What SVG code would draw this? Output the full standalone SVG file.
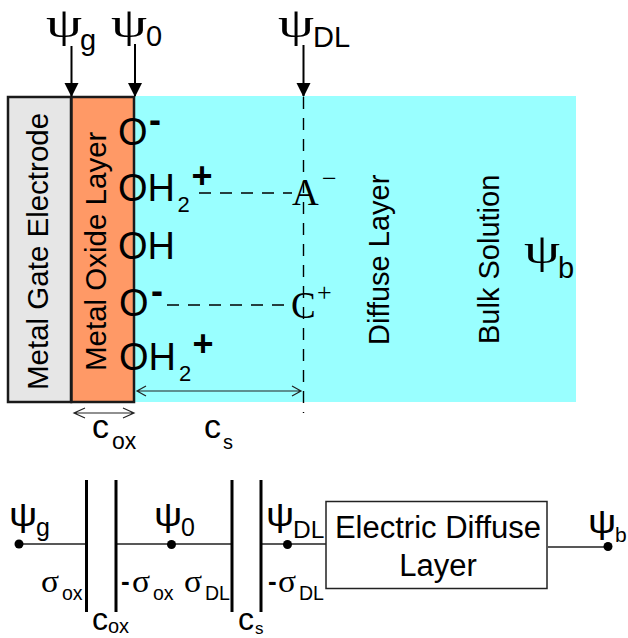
<svg xmlns="http://www.w3.org/2000/svg" width="628" height="638" viewBox="0 0 628 638">
<style>
text{font-family:"Liberation Sans",Arial,sans-serif;fill:#000}
.psi,.ser{font-family:"Liberation Serif",serif}
.psi{font-size:48px}
.psc{font-size:33px}
.sg{font-size:28px}
.t{font-size:29px}
.chem{font-size:38px}
.v{font-size:29.500px}
.sub{font-size:22px}
.sb{font-size:19.500px}
.ch{font-size:36px;font-weight:bold}
.l{fill:none;stroke:#000;stroke-width:2}
.d{fill:none;stroke:#000;stroke-width:1.4;stroke-dasharray:12 9}
.dim{fill:none;stroke:#222;stroke-width:1.2}
.w{fill:none;stroke:#222;stroke-width:1.5}
.p{fill:none;stroke:#000;stroke-width:3}
</style>
<defs>
<marker id="ah" markerUnits="userSpaceOnUse" markerWidth="14" markerHeight="16" refX="13" refY="7" orient="auto"><path d="M0,0L14,7L0,14z" fill="#000"/></marker>
</defs>
<g id="bulk-region"><rect x="134" y="96" width="442" height="306" fill="#99ffff"/></g>
<g id="metal-gate"><rect x="8" y="97" width="63" height="305" fill="#e6e6e6" stroke="#1a1a1a" stroke-width="2.500"/><text class="v" transform="translate(48,390) rotate(-90)">Metal Gate Electrode</text></g>
<g id="metal-oxide"><rect x="71.500" y="97" width="62.500" height="305" fill="#ff9966" stroke="#1a1a1a" stroke-width="2.500"/><text class="v" transform="translate(105.500,371) rotate(-90)">Metal Oxide Layer</text></g>
<g id="connectors">
<path class="l" d="M71.500,46V96" marker-end="url(#ah)"/>
<path class="l" d="M135,44V96" marker-end="url(#ah)"/>
<path class="l" d="M303.500,45V96" marker-end="url(#ah)"/>
<path class="d" d="M303.500,97V413"/>
<path class="d" d="M199,193H292"/>
<path class="d" d="M167,305H288"/>
<path class="dim" d="M137,391H301M146,386L137,391L146,396M292,386L301,391L292,396"/>
<path class="dim" d="M74,413H134M85,408L74,413L85,418M123,408L134,413L123,418"/>
<path class="w" d="M19,544H86M116,544H232M262,544H326M548,547H608"/>
<path class="p" d="M86.500,480V612M116,480V612M232,480V612M261,480V612"/>
</g>
<g id="terminals" fill="#000"><circle cx="19" cy="544" r="4.500"/><circle cx="171.500" cy="544.500" r="4.500"/><circle cx="287.500" cy="544.500" r="4.500"/><circle cx="608" cy="546.500" r="4.500"/></g>
<g id="top-labels">
<text class="psi" transform="translate(46,37) scale(1.2,.88)">ψ</text><text class="t" x="80" y="50">g</text>
<text class="psi" transform="translate(111,37) scale(1.2,.88)">ψ</text><text class="t" x="146" y="46">0</text>
<text class="psi" transform="translate(278,37) scale(1.2,.88)">ψ</text><text class="t" x="313" y="47">DL</text>
</g>
<g id="surface-groups">
<text class="chem" x="118" y="145">O</text><text class="ch" x="149" y="132">-</text>
<text class="chem" x="118" y="201">OH</text><text class="sub" x="177.500" y="212">2</text><text class="ch" x="191.500" y="188">+</text>
<text class="chem" x="118" y="259">OH</text>
<text class="chem" x="119" y="316">O</text><text class="ch" x="151" y="303">-</text>
<text class="chem" x="119" y="369.500">OH</text><text class="sub" x="179" y="381">2</text><text class="ch" x="192.500" y="356">+</text>
</g>
<g id="ions">
<text class="ser" x="292" y="205" font-size="37">A</text><text class="ser" x="322" y="187" font-size="26">−</text>
<text class="ser" x="291" y="318" font-size="37">C</text><text class="ser" x="317" y="301" font-size="26">+</text>
</g>
<g id="region-labels">
<text class="t" transform="translate(389,345) rotate(-90)">Diffuse Layer</text>
<text class="t" transform="translate(499,344) rotate(-90)">Bulk Solution</text>
<text class="psi" transform="translate(524,263) scale(1.2,.88)">ψ</text><text class="t" x="558" y="278">b</text>
</g>
<g id="dimension-labels">
<text font-size="34" x="92" y="438">c</text><text font-size="23" x="112" y="449">ox</text>
<text font-size="34" x="204" y="438">c</text><text font-size="20" x="223" y="449">s</text>
</g>
<g id="circuit-labels">
<text class="psc" transform="translate(9,526) scale(1.2,.98)">ψ</text><text font-size="25" x="36" y="536">g</text>
<text class="psc" transform="translate(154,526) scale(1.2,.98)">ψ</text><text font-size="25" x="181" y="536">0</text>
<text class="psc" transform="translate(266,526) scale(1.2,.98)">ψ</text><text font-size="24.500" x="293" y="538">DL</text>
<text class="psc" transform="translate(588,533) scale(1.2,.98)">ψ</text><text font-size="21" x="615" y="542">b</text>
<text class="sg ser" transform="translate(41,592) scale(1.2,1.15)">σ</text><text class="sb" x="62" y="600">ox</text>
<text font-size="26" font-weight="bold" x="121" y="590">-</text><text class="sg ser" transform="translate(132,592) scale(1.2,1.15)">σ</text><text class="sb" x="153" y="600">ox</text>
<text class="sg ser" transform="translate(184,592) scale(1.2,1.15)">σ</text><text class="sb" x="205" y="600">DL</text>
<text font-size="26" font-weight="bold" x="268" y="590">-</text><text class="sg ser" transform="translate(278,592) scale(1.2,1.15)">σ</text><text class="sb" x="299" y="600">DL</text>
<text font-size="32" x="92" y="630">c</text><text font-size="20" x="108" y="633">ox</text>
<text font-size="32" x="238" y="630">c</text><text font-size="17" x="255" y="634">s</text>
</g>
<g id="electric-diffuse-layer"><rect x="326" y="501.500" width="221" height="87" fill="#fff" stroke="#222" stroke-width="1.500"/>
<text font-size="31" x="438" y="538" text-anchor="middle">Electric Diffuse</text><text font-size="31" x="438" y="576" text-anchor="middle">Layer</text></g>
</svg>
